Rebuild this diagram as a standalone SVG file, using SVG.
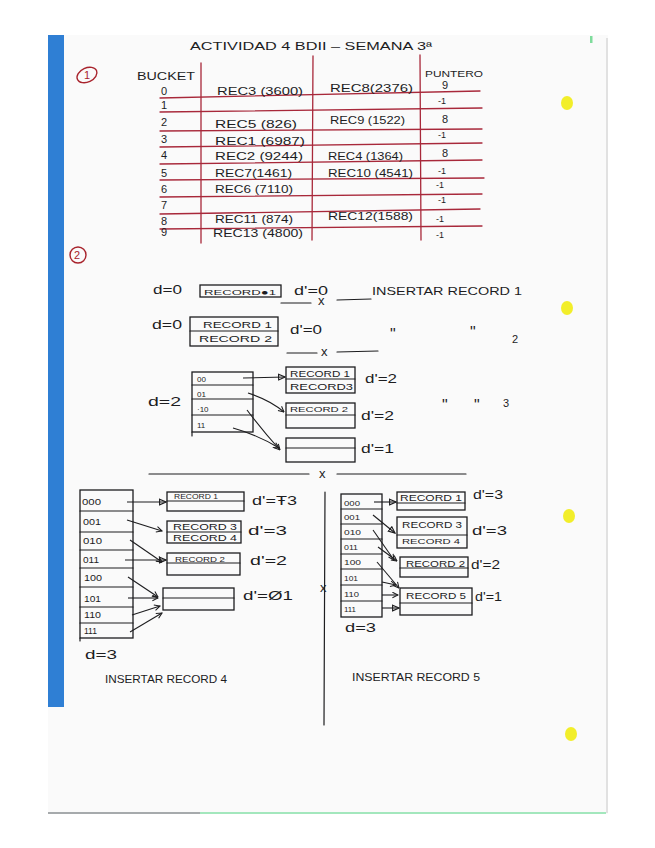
<svg xmlns="http://www.w3.org/2000/svg" width="655" height="848" viewBox="0 0 655 848">
<defs>
<style>
text{font-family:"Liberation Sans","DejaVu Sans",Arial,sans-serif;fill:#1d1d1f}
.t{font-size:11px}
.s{font-size:9px}
.xs{font-size:8px}
.m{font-size:13px}
.q{font-size:16px}
.r{fill:#a8232c}
.rl{stroke:#a8283a;stroke-width:1.3;fill:none;stroke-linecap:round}
.k{stroke:#1d1d1f;stroke-width:1.2;fill:none;stroke-linecap:round;stroke-linejoin:round}
.bx{stroke:#1d1d1f;stroke-width:1.3;fill:none}
.a{stroke:#1d1d1f;stroke-width:1.1;fill:none;marker-end:url(#v)}
.at{stroke:#1d1d1f;stroke-width:1.1;fill:none;marker-end:url(#tri)}
</style>
<marker id="v" viewBox="0 0 10 10" refX="9" refY="5" markerWidth="7" markerHeight="7" orient="auto" markerUnits="userSpaceOnUse">
<path d="M1,1 L9,5 L1,9" fill="none" stroke="#1d1d1f" stroke-width="1.5"/>
</marker>
<marker id="tri" viewBox="0 0 10 10" refX="9" refY="5" markerWidth="8" markerHeight="8" orient="auto" markerUnits="userSpaceOnUse">
<path d="M1,1.5 L9,5 L1,8.5 Z" fill="none" stroke="#1d1d1f" stroke-width="1.4"/>
</marker>
</defs>

<!-- paper -->
<g id="paper">
<rect x="0" y="0" width="655" height="848" fill="#ffffff"/>
<rect x="48" y="35" width="560" height="779" fill="#fafafa"/>
<rect x="48" y="35" width="16" height="672" fill="#2f7fd4"/>
<line x1="607" y1="38" x2="607" y2="813" stroke="#d8d8d8" stroke-width="1.5"/>
<line x1="48" y1="813" x2="200" y2="813" stroke="#8a8f92" stroke-width="1.5"/>
<line x1="200" y1="813" x2="606" y2="813" stroke="#86e0a8" stroke-width="1.5"/>
<rect x="590" y="36" width="2.5" height="7" fill="#7fdc9c"/>
<ellipse cx="567" cy="103" rx="6" ry="7" fill="#f2ee2a"/>
<ellipse cx="567" cy="308" rx="6" ry="7" fill="#f2ee2a"/>
<ellipse cx="569" cy="516" rx="6" ry="7" fill="#f2ee2a"/>
<ellipse cx="571" cy="734" rx="6" ry="7" fill="#f2ee2a"/>
</g>

<g id="title">
<text class="t" x="190" y="50" textLength="242" lengthAdjust="spacingAndGlyphs">ACTIVIDAD 4 BDII – SEMANA 3ª</text>
</g>

<g id="mark1">
<ellipse cx="87" cy="75" rx="10.5" ry="7" fill="none" stroke="#a8232c" stroke-width="1.4" transform="rotate(-25 87 75)"/>
<text class="t r" x="84" y="79">1</text>
</g>
<g id="mark2">
<circle cx="78" cy="255" r="8" fill="none" stroke="#a8232c" stroke-width="1.4"/>
<text class="t r" x="74" y="259">2</text>
</g>

<!-- table -->
<g id="table-lines">
<path class="rl" d="M201,63 L201,243 M313,56 L312,240 M420,55 L421,240"/>
<path class="rl" d="M160,98 L480,91 M160,112 L482,108 M160,131 L482,129 M160,147 L482,143 M160,164 L482,160 M160,180 L484,178 M160,197 L482,194 M160,214 L480,209 M160,229 L482,226"/>
</g>
<g id="table-head">
<text class="t" x="137" y="80" textLength="58" lengthAdjust="spacingAndGlyphs">BUCKET</text>
<text class="s" x="425" y="77" textLength="58" lengthAdjust="spacingAndGlyphs">PUNTERO</text>
</g>
<g id="table-buckets">
<text class="t" x="161" y="95">0</text>
<text class="t" x="161" y="109">1</text>
<text class="t" x="161" y="126">2</text>
<text class="t" x="161" y="143">3</text>
<text class="t" x="161" y="159">4</text>
<text class="t" x="161" y="177">5</text>
<text class="t" x="161" y="193">6</text>
<text class="t" x="161" y="209">7</text>
<text class="t" x="161" y="225">8</text>
<text class="t" x="161" y="236">9</text>
</g>
<g id="table-col1">
<text class="t" x="217" y="95" textLength="86" lengthAdjust="spacingAndGlyphs">REC3 (3600)</text>
<text class="t" x="215" y="128" textLength="82" lengthAdjust="spacingAndGlyphs">REC5 (826)</text>
<text class="t" x="215" y="145" textLength="90" lengthAdjust="spacingAndGlyphs">REC1 (6987)</text>
<text class="t" x="215" y="160" textLength="88" lengthAdjust="spacingAndGlyphs">REC2 (9244)</text>
<text class="t" x="215" y="177" textLength="77" lengthAdjust="spacingAndGlyphs">REC7(1461)</text>
<text class="t" x="215" y="193" textLength="78" lengthAdjust="spacingAndGlyphs">REC6 (7110)</text>
<text class="t" x="215" y="223" textLength="78" lengthAdjust="spacingAndGlyphs">REC11 (874)</text>
<text class="t" x="213" y="237" textLength="90" lengthAdjust="spacingAndGlyphs">REC13 (4800)</text>
</g>
<g id="table-col2">
<text class="t" x="330" y="92" textLength="83" lengthAdjust="spacingAndGlyphs">REC8(2376)</text>
<text class="t" x="330" y="124" textLength="75" lengthAdjust="spacingAndGlyphs">REC9 (1522)</text>
<text class="t" x="328" y="160" textLength="75" lengthAdjust="spacingAndGlyphs">REC4 (1364)</text>
<text class="t" x="328" y="177" textLength="85" lengthAdjust="spacingAndGlyphs">REC10 (4541)</text>
<text class="t" x="328" y="220" textLength="85" lengthAdjust="spacingAndGlyphs">REC12(1588)</text>
</g>
<g id="table-ptr">
<text class="t" x="442" y="89">9</text>
<text class="s" x="438" y="104">-1</text>
<text class="t" x="442" y="123">8</text>
<text class="s" x="438" y="138">-1</text>
<text class="t" x="442" y="157">8</text>
<text class="s" x="438" y="174">-1</text>
<text class="s" x="436" y="188">-1</text>
<text class="s" x="438" y="203">-1</text>
<text class="s" x="436" y="222">-1</text>
<text class="s" x="436" y="238">-1</text>
</g>

<!-- step 1 -->
<g id="step1">
<text class="m" x="153" y="294" textLength="29" lengthAdjust="spacingAndGlyphs">d=0</text>
<rect class="bx" x="200" y="285" width="81" height="12"/>
<text class="xs" x="204" y="295" textLength="72" lengthAdjust="spacingAndGlyphs">RECORD●1</text>
<text class="m" x="294" y="295" textLength="34" lengthAdjust="spacingAndGlyphs">d'=0</text>
<text class="t" x="372" y="295" textLength="150" lengthAdjust="spacingAndGlyphs">INSERTAR RECORD 1</text>
</g>
<g id="sep1">
<path class="k" d="M281,303 L311,303 M337,300 L371,299"/>
<text class="m" x="318" y="305">x</text>
</g>

<!-- step 2 -->
<g id="step2">
<text class="m" x="152" y="329" textLength="30" lengthAdjust="spacingAndGlyphs">d=0</text>
<rect class="bx" x="190" y="317" width="88" height="29"/>
<line class="k" x1="190" y1="331" x2="278" y2="331"/>
<text class="s" x="203" y="328" textLength="69" lengthAdjust="spacingAndGlyphs">RECORD  1</text>
<text class="s" x="199" y="342" textLength="73" lengthAdjust="spacingAndGlyphs">RECORD   2</text>
<text class="m" x="290" y="334" textLength="32" lengthAdjust="spacingAndGlyphs">d'=0</text>
<text class="q" x="390" y="340">"</text>
<text class="q" x="470" y="338">"</text>
<text class="t" x="512" y="343">2</text>
</g>
<g id="sep2">
<path class="k" d="M287,353 L317,353 M337,352 L378,351"/>
<text class="m" x="321" y="356">x</text>
</g>

<!-- step 3 -->
<g id="dir-d2">
<text class="m" x="148" y="406" textLength="33" lengthAdjust="spacingAndGlyphs">d=2</text>
<rect class="bx" x="192" y="372" width="61" height="60"/>
<path class="k" d="M192,385 L253,385 M192,399 L253,399 M192,415 L253,415 M192,432 L192,436"/>
<text class="xs" x="197" y="382">00</text>
<text class="xs" x="197" y="397">01</text>
<text class="xs" x="197" y="412">·10</text>
<text class="xs" x="197" y="428">11</text>
</g>
<g id="bkt-a2">
<rect class="bx" x="286" y="367" width="69" height="26"/>
<line class="k" x1="286" y1="379" x2="355" y2="379"/>
<text class="s" x="290" y="377" textLength="60" lengthAdjust="spacingAndGlyphs">RECORD 1</text>
<text class="s" x="290" y="390" textLength="63" lengthAdjust="spacingAndGlyphs">RECORD3</text>
<text class="m" x="365" y="383" textLength="32" lengthAdjust="spacingAndGlyphs">d'=2</text>
</g>
<g id="bkt-b2">
<rect class="bx" x="286" y="403" width="69" height="25"/>
<line class="k" x1="286" y1="415" x2="355" y2="415"/>
<text class="xs" x="290" y="412" textLength="58" lengthAdjust="spacingAndGlyphs">RECORD 2</text>
<text class="m" x="361" y="420" textLength="33" lengthAdjust="spacingAndGlyphs">d'=2</text>
</g>
<g id="bkt-c2">
<rect class="bx" x="286" y="438" width="69" height="24"/>
<line class="k" x1="286" y1="448" x2="355" y2="448"/>
<text class="m" x="361" y="453" textLength="33" lengthAdjust="spacingAndGlyphs">d'=1</text>
</g>
<g id="ditto3">
<text class="q" x="442" y="411">"</text>
<text class="q" x="474" y="411">"</text>
<text class="t" x="503" y="407">3</text>
</g>

<g id="sep3">
<path class="k" d="M149,474 L309,474 M337,474 L466,474"/>
<text class="m" x="319" y="478">x</text>
</g>

<!-- step 4 (left) -->
<g id="dir-left">
<rect class="bx" x="80" y="490" width="53" height="148"/>
<path class="k" d="M80,511 L133,511 M80,532 L133,532 M80,550 L133,550 M80,568 L133,568 M80,587 L133,587 M80,607 L133,607 M80,623 L133,623 M80,638 L80,641"/>
<text class="s" x="82" y="505" textLength="19" lengthAdjust="spacingAndGlyphs">000</text>
<text class="s" x="83" y="525" textLength="18" lengthAdjust="spacingAndGlyphs">001</text>
<text class="s" x="83" y="544" textLength="19" lengthAdjust="spacingAndGlyphs">010</text>
<text class="s" x="83" y="563" textLength="16" lengthAdjust="spacingAndGlyphs">011</text>
<text class="s" x="84" y="581" textLength="18" lengthAdjust="spacingAndGlyphs">100</text>
<text class="s" x="84" y="602" textLength="17" lengthAdjust="spacingAndGlyphs">101</text>
<text class="s" x="84" y="618" textLength="17" lengthAdjust="spacingAndGlyphs">110</text>
<text class="s" x="84" y="634" textLength="13" lengthAdjust="spacingAndGlyphs">111</text>
<text class="m" x="85" y="659" textLength="32" lengthAdjust="spacingAndGlyphs">d=3</text>
</g>
<g id="bkt-l1">
<rect class="bx" x="167" y="492" width="77" height="19"/>
<line class="k" x1="167" y1="501" x2="244" y2="501"/>
<text class="xs" x="174" y="499" textLength="44" lengthAdjust="spacingAndGlyphs">RECORD 1</text>
<text class="m" x="252" y="505" textLength="45" lengthAdjust="spacingAndGlyphs">d'=Ŧ3</text>
</g>
<g id="bkt-l2">
<rect class="bx" x="167" y="521" width="74" height="22"/>
<line class="k" x1="167" y1="532" x2="241" y2="532"/>
<text class="s" x="173" y="530" textLength="64" lengthAdjust="spacingAndGlyphs">RECORD 3</text>
<text class="s" x="173" y="541" textLength="64" lengthAdjust="spacingAndGlyphs">RECORD 4</text>
<text class="m" x="248" y="535" textLength="39" lengthAdjust="spacingAndGlyphs">d'=3</text>
</g>
<g id="bkt-l3">
<rect class="bx" x="167" y="553" width="73" height="22"/>
<line class="k" x1="167" y1="563" x2="240" y2="563"/>
<text class="xs" x="175" y="562" textLength="50" lengthAdjust="spacingAndGlyphs">RECORD 2</text>
<text class="m" x="250" y="565" textLength="37" lengthAdjust="spacingAndGlyphs">d'=2</text>
</g>
<g id="bkt-l4">
<rect class="bx" x="163" y="588" width="71" height="22"/>
<line class="k" x1="163" y1="598" x2="234" y2="598"/>
<text class="m" x="243" y="600" textLength="50" lengthAdjust="spacingAndGlyphs">d'=Ø1</text>
</g>
<g id="cap-left">
<text class="t" x="105" y="683" textLength="122" lengthAdjust="spacingAndGlyphs">INSERTAR RECORD 4</text>
</g>

<g id="vline">
<path class="k" d="M325,492 L324,725"/>
<text class="m" x="320" y="592">x</text>
</g>

<!-- step 5 (right) -->
<g id="dir-right">
<rect class="bx" x="341" y="494" width="41" height="123"/>
<path class="k" d="M341,509 L382,509 M341,524 L382,524 M341,539 L382,539 M341,554 L382,554 M341,569 L382,569 M341,585 L382,585 M341,601 L382,601"/>
<text class="xs" x="344" y="506" textLength="16" lengthAdjust="spacingAndGlyphs">000</text>
<text class="xs" x="344" y="520" textLength="16" lengthAdjust="spacingAndGlyphs">001</text>
<text class="xs" x="344" y="535" textLength="17" lengthAdjust="spacingAndGlyphs">010</text>
<text class="xs" x="344" y="550" textLength="14" lengthAdjust="spacingAndGlyphs">011</text>
<text class="xs" x="344" y="565" textLength="17" lengthAdjust="spacingAndGlyphs">100</text>
<text class="xs" x="344" y="581" textLength="14" lengthAdjust="spacingAndGlyphs">101</text>
<text class="xs" x="344" y="597" textLength="15" lengthAdjust="spacingAndGlyphs">110</text>
<text class="xs" x="344" y="612" textLength="12" lengthAdjust="spacingAndGlyphs">111</text>
<text class="m" x="345" y="632" textLength="31" lengthAdjust="spacingAndGlyphs">d=3</text>
</g>
<g id="bkt-r1">
<rect class="bx" x="397" y="492" width="68" height="18"/>
<line class="k" x1="397" y1="503" x2="465" y2="503"/>
<text class="s" x="400" y="501" textLength="62" lengthAdjust="spacingAndGlyphs">RECORD 1</text>
<text class="m" x="473" y="499" textLength="30" lengthAdjust="spacingAndGlyphs">d'=3</text>
</g>
<g id="bkt-r2">
<rect class="bx" x="397" y="517" width="70" height="31"/>
<line class="k" x1="397" y1="535" x2="467" y2="535"/>
<text class="s" x="402" y="528" textLength="60" lengthAdjust="spacingAndGlyphs">RECORD 3</text>
<text class="xs" x="402" y="544" textLength="58" lengthAdjust="spacingAndGlyphs">RECORD 4</text>
<text class="m" x="472" y="535" textLength="35" lengthAdjust="spacingAndGlyphs">d'=3</text>
</g>
<g id="bkt-r3">
<rect class="bx" x="400" y="557" width="68" height="20"/>
<line class="k" x1="400" y1="568" x2="468" y2="568"/>
<text class="s" x="406" y="567" textLength="59" lengthAdjust="spacingAndGlyphs">RECORD 2</text>
<text class="m" x="471" y="569" textLength="29" lengthAdjust="spacingAndGlyphs">d'=2</text>
</g>
<g id="bkt-r4">
<rect class="bx" x="400" y="588" width="72" height="27"/>
<line class="k" x1="400" y1="603" x2="472" y2="603"/>
<text class="s" x="406" y="599" textLength="60" lengthAdjust="spacingAndGlyphs">RECORD 5</text>
<text class="m" x="475" y="601" textLength="27" lengthAdjust="spacingAndGlyphs">d'=1</text>
</g>
<g id="cap-right">
<text class="t" x="352" y="681" textLength="128" lengthAdjust="spacingAndGlyphs">INSERTAR RECORD 5</text>
</g>

<!-- connectors -->
<g id="connectors">
<path class="at" d="M243,378 L285,377"/>
<path class="a" d="M248,393 Q270,400 284,412"/>
<path class="a" d="M247,410 Q262,430 280,450"/>
<path class="a" d="M233,428 Q258,435 279,448"/>

<path class="at" d="M127,502 L166,502"/>
<path class="a" d="M127,520 L162,531"/>
<path class="a" d="M130,540 L162,562"/>
<path class="at" d="M125,560 L166,560"/>
<path class="a" d="M128,577 L158,597"/>
<path class="a" d="M128,598 L158,598"/>
<path class="a" d="M132,615 L160,606"/>
<path class="a" d="M130,632 L162,613"/>

<path class="at" d="M374,502 L396,502"/>
<path class="at" d="M373,515 L395,533"/>
<path class="a" d="M373,530 L394,560"/>
<path class="a" d="M378,547 L397,561"/>
<path class="a" d="M377,562 L399,588"/>
<path class="a" d="M382,582 L396,585"/>
<path class="a" d="M382,595 L398,595"/>
<path class="at" d="M382,608 L399,608"/>
</g>
</svg>
